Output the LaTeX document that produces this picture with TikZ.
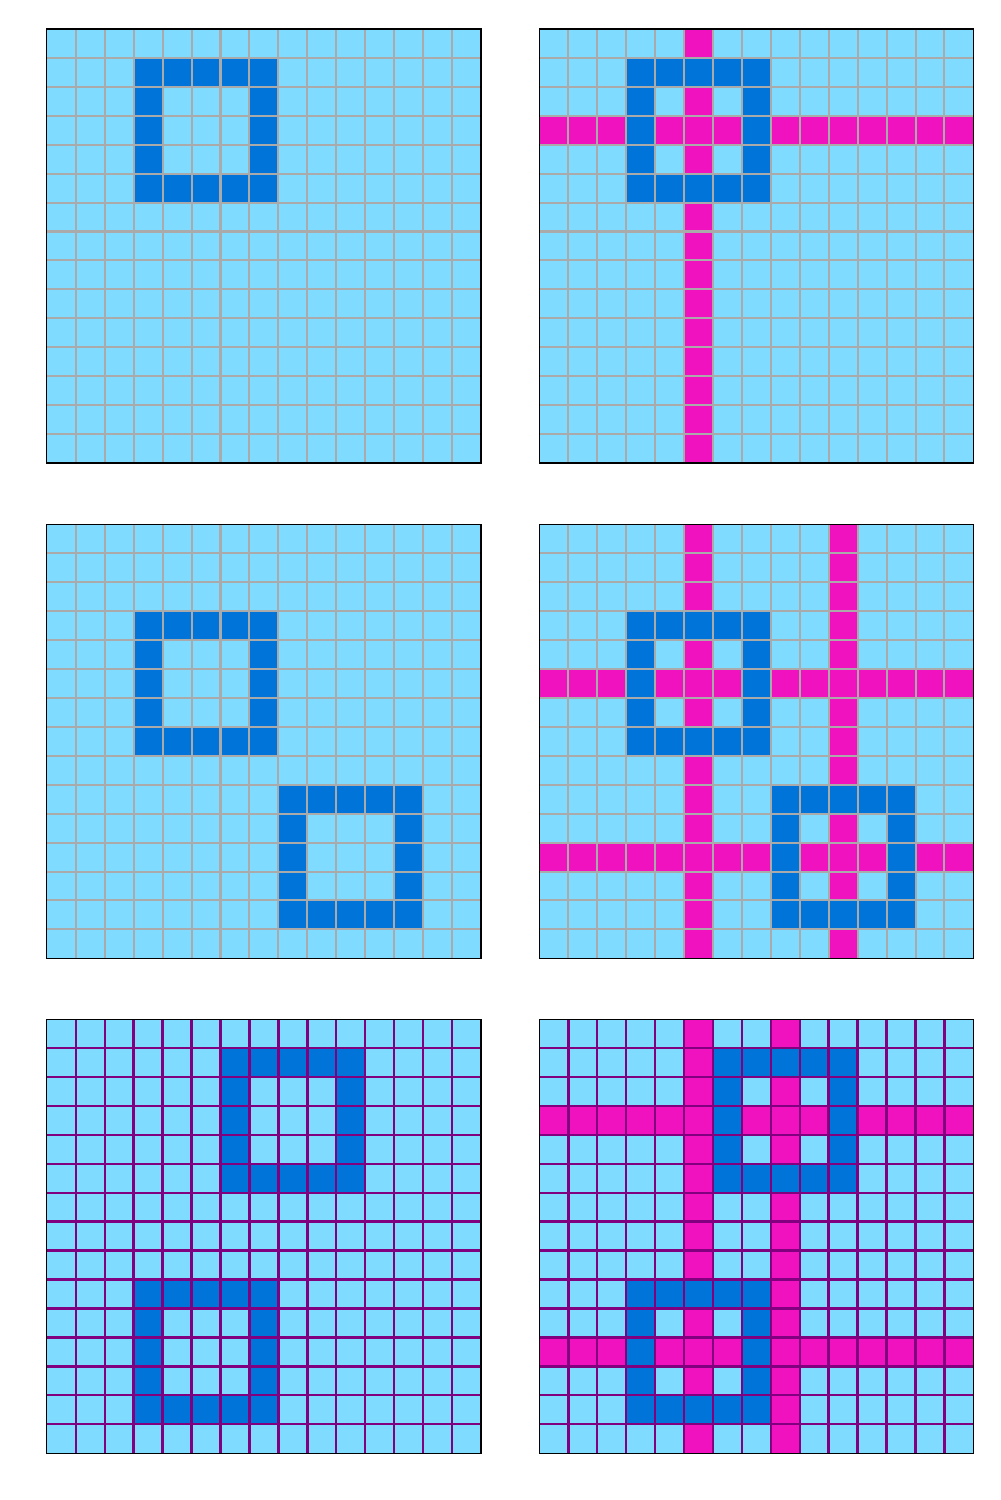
\documentclass[tikz,border=0pt]{standalone}
\usepackage{tikz}

\definecolor{celeste}{RGB}{127,219,255}
\definecolor{blu}{RGB}{0,116,217}
\definecolor{fucsia}{RGB}{240,18,190}
\definecolor{grigio}{RGB}{170,170,170}
\definecolor{viola}{RGB}{128,0,128}

% cornice 5x5 con angolo (#1,#2)
\newcommand{\cornice}[2]{%
  \fill[blu,even odd rule] (#1,#2) rectangle ++(5,5) (#1+1,#2+1) rectangle ++(3,3);}
% colonna e riga fucsia
\newcommand{\colonna}[1]{\fill[fucsia] (#1,0) rectangle ++(1,15);}
\newcommand{\riga}[1]{\fill[fucsia] (0,#1) rectangle ++(15,1);}
% linee della griglia e bordo
\newcommand{\griglia}[1]{%
  \foreach \i in {1,...,14}
    \draw[line width=#1] (\i,0) -- (\i,15) (0,\i) -- (15,\i);
  \draw[bordo] (0,0) rectangle (15,15);}

\begin{document}
\begin{tikzpicture}[x=0.5cm, y=-0.5cm,
    fondo/.style={fill=celeste},
    bordo/.style={draw=black, line width=0.6pt}]
    \useasboundingbox (0,0) rectangle (34.56,51.84);

    % Prima riga
    \begin{scope}[shift={(1.62,1)}]
        \fill[fondo] (0,0) rectangle (15,15);
        \cornice{3}{1}
        \begin{scope}[grigio]\griglia{1pt}\end{scope}
    \end{scope}
    \begin{scope}[shift={(18.64,1)}]
        \fill[fondo] (0,0) rectangle (15,15);
        \colonna{5} \riga{3}
        \cornice{3}{1}
        \begin{scope}[grigio]\griglia{1pt}\end{scope}
    \end{scope}

    % Seconda riga
    \begin{scope}[shift={(1.62,18.12)}]
        \fill[fondo] (0,0) rectangle (15,15);
        \cornice{3}{3} \cornice{8}{9}
        \begin{scope}[grigio]\griglia{1pt}\end{scope}
    \end{scope}
    \begin{scope}[shift={(18.64,18.12)}]
        \fill[fondo] (0,0) rectangle (15,15);
        \colonna{5} \colonna{10} \riga{5} \riga{11}
        \cornice{3}{3} \cornice{8}{9}
        \begin{scope}[grigio]\griglia{1pt}\end{scope}
    \end{scope}

    % Terza riga
    \begin{scope}[shift={(1.62,35.22)}]
        \fill[fondo] (0,0) rectangle (15,15);
        \cornice{6}{1} \cornice{3}{9}
        \begin{scope}[viola]\griglia{1.2pt}\end{scope}
    \end{scope}
    \begin{scope}[shift={(18.64,35.22)}]
        \fill[fondo] (0,0) rectangle (15,15);
        \colonna{5} \colonna{8} \riga{3} \riga{11}
        \cornice{6}{1} \cornice{3}{9}
        \begin{scope}[viola]\griglia{1.2pt}\end{scope}
    \end{scope}
\end{tikzpicture}
\end{document}
